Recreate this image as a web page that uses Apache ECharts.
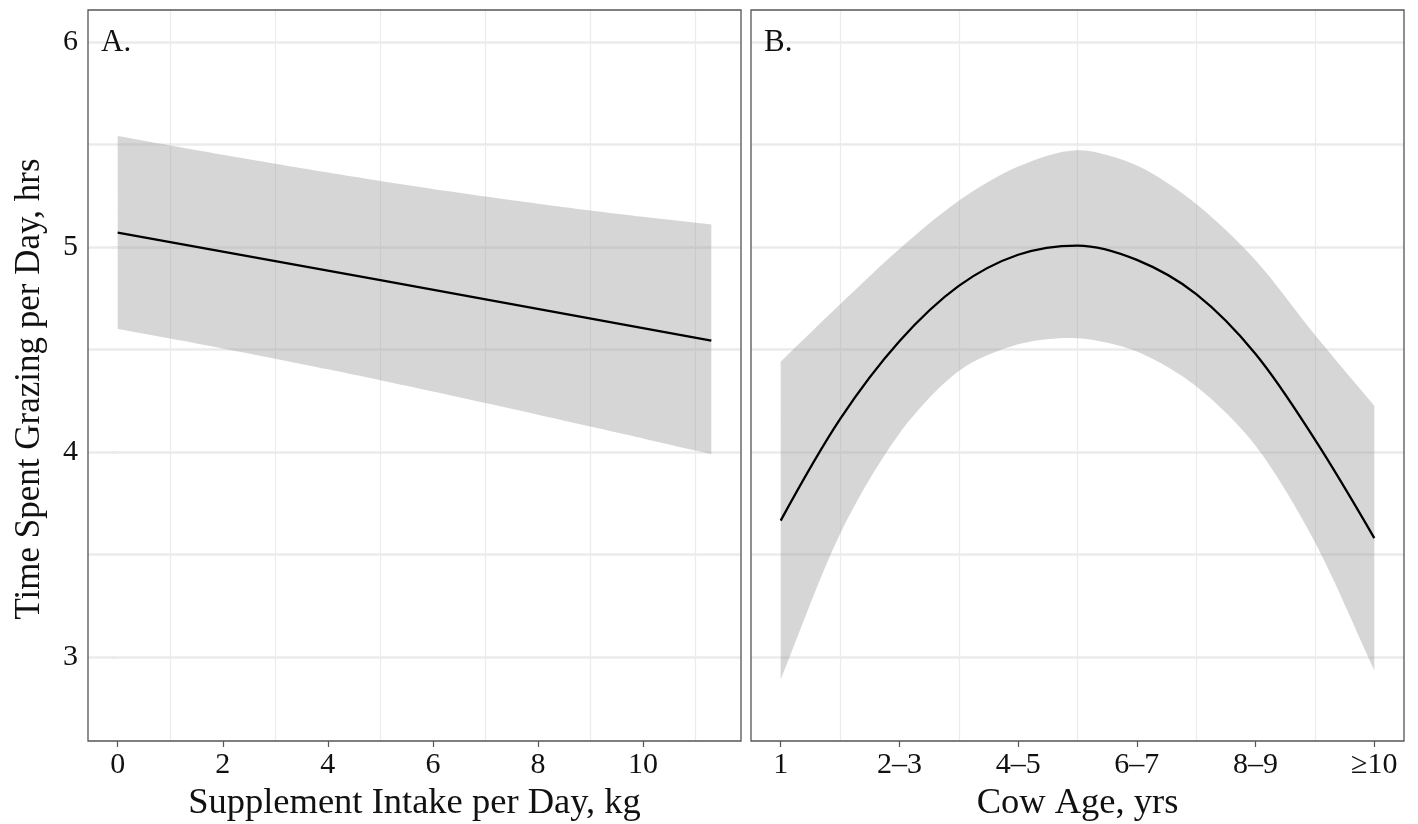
<!DOCTYPE html>
<html><head><meta charset="utf-8">
<script src="https://cdn.jsdelivr.net/npm/echarts@6/dist/echarts.min.js"></script>
<style>html,body{margin:0;padding:0;background:#fff}#c{width:1418px;height:824px}</style>
</head><body><div id="c"></div>
<script>
// ---------- Panel A: supplement intake ----------
const supplementX = [0, 1, 2, 3, 4, 5, 6, 7, 8, 9, 10, 11, 11.3];
const supplementUpper = [5.541, 5.495, 5.450, 5.406, 5.363, 5.322, 5.283, 5.246, 5.211, 5.178, 5.147, 5.118, 5.110];
const supplementLower = [4.600, 4.553, 4.505, 4.455, 4.403, 4.350, 4.295, 4.239, 4.182, 4.124, 4.066, 4.007, 3.990];
const supplementFitX = [0, 5, 11.3];
const supplementFit = [5.070, 4.838, 4.543];
const supplementTicks = [0, 2, 4, 6, 8, 10];
const supplementGrid = [1, 3, 5, 7, 9, 11];

// ---------- Panel B: cow age ----------
const ageX = [1, 1.5, 2, 2.5, 3, 3.5, 4, 4.5, 5, 5.5, 6];
const ageUpper = [4.44, 4.72, 4.99, 5.225, 5.392, 5.472, 5.397, 5.21, 4.935, 4.57, 4.225];
const ageFit = [3.665, 4.16, 4.54, 4.81, 4.962, 5.007, 4.937, 4.77, 4.478, 4.06, 3.58];
const ageLower = [2.89, 3.60, 4.09, 4.395, 4.525, 4.555, 4.49, 4.32, 4.03, 3.56, 2.935];
const ageTickPos = [1, 2, 3, 4, 5, 6];
const ageTickLabels = ['1', '2\u20133', '4\u20135', '6\u20137', '8\u20139', '\u226510'];
const ageGrid = [1.5, 2.5, 3.5, 4.5, 5.5];

// ---------- Shared y ----------
const yTicks = [3, 4, 5, 6];
const yGrid = [3, 3.5, 4, 4.5, 5, 5.5, 6];
const yMin = 2.59, yMax = 6.156;

const FONT = 'Liberation Serif';
const zip = (a, b) => a.map((v, i) => [v, b[i]]);

const chart = echarts.init(document.getElementById('c'), null, {renderer: 'canvas'});

function xAxisDef(gridIndex, min, max, ticks, fmt, name) {
  return {
    type: 'value', gridIndex, min, max,
    name, nameLocation: 'middle', nameGap: 43,
    nameTextStyle: {fontFamily: FONT, fontSize: 36.5, color: '#111'},
    axisLine: {show: false},
    axisTick: {show: true, customValues: ticks, length: 6, lineStyle: {color: '#555', width: 1.2}},
    axisLabel: {show: true, customValues: ticks, formatter: fmt, margin: 9,
      fontFamily: FONT, fontSize: 30, color: '#111'},
    splitLine: {show: false}
  };
}
function yAxisDef(gridIndex, showLabels) {
  return {
    type: 'value', gridIndex, min: yMin, max: yMax,
    axisLine: {show: false},
    axisTick: {show: showLabels, customValues: yTicks, length: 6, lineStyle: {color: '#555', width: 1.2}},
    axisLabel: {show: showLabels, customValues: yTicks, margin: 10,
      fontFamily: FONT, fontSize: 30, color: '#111'},
    splitLine: {show: false}
  };
}
function gridLineSeries(idx, xs) {
  return {
    type: 'line', xAxisIndex: idx, yAxisIndex: idx, data: [], z: 1, silent: true,
    markLine: {
      silent: true, z: 1, symbol: ['none', 'none'], label: {show: false}, animation: false,
      data: [
        ...yGrid.map(v => ({yAxis: v, lineStyle: {color: '#ebebeb', width: 2.6, type: 'solid'}})),
        ...xs.map(v => ({xAxis: v, lineStyle: {color: '#ebebeb', width: 1.2, type: 'solid'}}))
      ]
    }
  };
}
// Confidence band drawn as one polygon through the axis scales (api.coord).
function bandSeries(idx, xs, lower, upper) {
  return {
    type: 'custom', xAxisIndex: idx, yAxisIndex: idx, z: 2, silent: true,
    data: xs.map((x, i) => [x, lower[i], upper[i]]),
    encode: {x: 0, y: [1, 2]},
    renderItem: function (params, api) {
      if (params.dataIndex !== 0) return null;
      const up = xs.map((x, i) => api.coord([x, upper[i]]));
      const lo = xs.map((x, i) => api.coord([x, lower[i]])).reverse();
      const n = up.length;
      // duplicate corner points so the vertical ends stay straight when smoothed
      const pts = [up[0], up[0].slice(), ...up.slice(1, n - 1), up[n - 1], up[n - 1].slice(),
                   lo[0], lo[0].slice(), ...lo.slice(1, n - 1), lo[n - 1], lo[n - 1].slice()];
      return {
        type: 'polygon',
        shape: {points: pts, smooth: 0.3},
        style: {fill: 'rgba(153,153,153,0.4)', stroke: null}
      };
    }
  };
}

const option = {
  animation: false,
  backgroundColor: '#fff',
  grid: [
    {left: 88, top: 10, width: 653, height: 731, outerBoundsMode: 'none', containLabel: false,
     show: true, borderColor: '#555', borderWidth: 1.3, backgroundColor: 'transparent', z: 5},
    {left: 751, top: 10, width: 653, height: 731, outerBoundsMode: 'none', containLabel: false,
     show: true, borderColor: '#555', borderWidth: 1.3, backgroundColor: 'transparent', z: 5}
  ],
  xAxis: [
    xAxisDef(0, -0.565, 11.865, supplementTicks, v => String(v), 'Supplement Intake per Day, kg'),
    xAxisDef(1, 0.75, 6.25, ageTickPos, v => ageTickLabels[Math.round(v) - 1], 'Cow Age, yrs')
  ],
  yAxis: [yAxisDef(0, true), yAxisDef(1, false)],
  graphic: [
    {type: 'text', left: 101, top: 27, style: {text: 'A.', font: '31px "Liberation Serif"', fill: '#111'}, z: 10},
    {type: 'text', left: 764, top: 27, style: {text: 'B.', font: '31px "Liberation Serif"', fill: '#111'}, z: 10},
    {type: 'text', x: 30, y: 389, rotation: Math.PI / 2,
     style: {text: 'Time Spent Grazing per Day, hrs', font: '35px "Liberation Serif"', fill: '#111',
             align: 'center', verticalAlign: 'middle'}, z: 10}
  ],
  series: [
    gridLineSeries(0, supplementGrid),
    gridLineSeries(1, ageGrid),
    bandSeries(0, supplementX, supplementLower, supplementUpper),
    bandSeries(1, ageX, ageLower, ageUpper),
    {type: 'line', xAxisIndex: 0, yAxisIndex: 0, data: zip(supplementFitX, supplementFit),
     symbol: 'none', lineStyle: {color: '#000', width: 2.3}, z: 3, silent: true},
    {type: 'line', xAxisIndex: 1, yAxisIndex: 1, data: zip(ageX, ageFit),
     symbol: 'none', smooth: 0.35, lineStyle: {color: '#000', width: 2.3}, z: 3, silent: true}
  ]
};
chart.setOption(option);
</script>
</body></html>
